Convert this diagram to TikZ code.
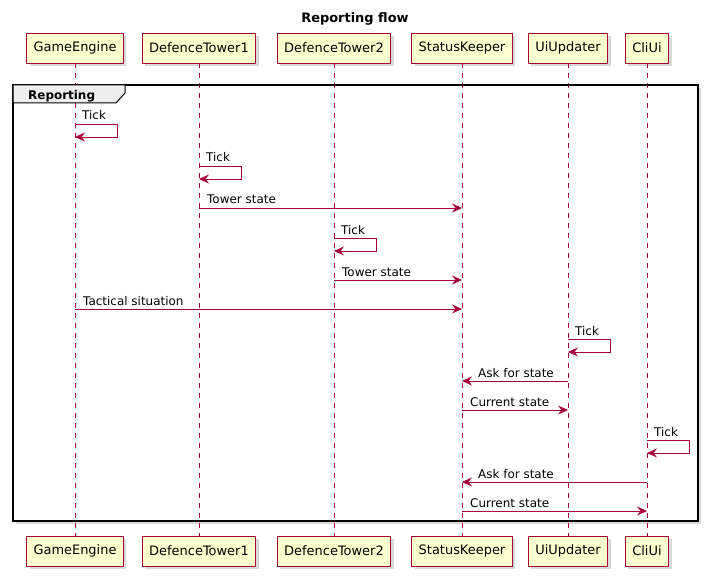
\documentclass[tikz,border=0pt]{standalone}
\usepackage{fontspec}
\setmainfont{DejaVu Sans}
\usetikzlibrary{arrows.meta,shadows}
\definecolor{umlred}{HTML}{A80036}
\definecolor{umlfill}{HTML}{FEFECE}
\definecolor{tabgray}{HTML}{EEEEEE}

\begin{document}
\begin{tikzpicture}[x=1bp,y=-1bp,
    part/.style={draw=umlred, fill=umlfill, line width=0.8bp, minimum height=30bp, inner xsep=7bp,
        font=\fontsize{13}{15}\selectfont, drop shadow={shadow xshift=3bp, shadow yshift=-3bp, opacity=0.3}},
    life/.style={umlred, line width=0.7bp, dash pattern=on 5bp off 5bp},
    msg/.style={umlred, line width=0.8bp, -{Stealth[length=10bp, width=9bp, inset=3.5bp]}},
    lbl/.style={font=\fontsize{12}{14}\selectfont, anchor=base west, inner sep=0pt}]
    \useasboundingbox (0,0) rectangle (708,577);

    % Title
    \node[font=\bfseries\fontsize{13}{15}\selectfont] (title) at (355,19) {Reporting flow};

    % Frame background
    \fill[white, drop shadow={shadow xshift=3bp, shadow yshift=-3bp, opacity=0.3}] (13,85) rectangle (698,521);

    % Participants and lifelines
    \foreach \n/\x/\t in {ge/75/GameEngine, dt1/199/DefenceTower1, dt2/334/DefenceTower2,
                          sk/462/StatusKeeper, uu/568/UiUpdater, cli/647/CliUi} {
        \node[part] (\n) at (\x,48) {\t};
        \node[part] (\n-b) at (\x,551) {\t};
        \draw[life] (\n.south) -- (\n-b.north);
    }

    % Frame
    \draw[line width=1.5bp] (13,85) rectangle (698,521);
    \draw[fill=tabgray, line width=1bp] (13,85) -- (125,85) -- (125,93) -- (116,103) -- (13,103) -- cycle;
    \node[font=\bfseries\fontsize{12}{14}\selectfont, anchor=base west, inner sep=0pt] (grp) at (28,100) {Reporting};

    % Messages
    \draw[msg] (ge |- 0,124) -- ++(42,0) -- ++(0,13) -- (ge |- 0,137);
    \path (ge |- 0,120) node[lbl, xshift=7bp] (m1) {Tick};

    \draw[msg] (dt1 |- 0,166) -- ++(42,0) -- ++(0,13) -- (dt1 |- 0,179);
    \path (dt1 |- 0,162) node[lbl, xshift=7bp] (m2) {Tick};

    \draw[msg] (dt1 |- 0,208) -- (sk |- 0,208);
    \path (dt1 |- 0,204) node[lbl, xshift=8bp] (m3) {Tower state};

    \draw[msg] (dt2 |- 0,238) -- ++(42,0) -- ++(0,13) -- (dt2 |- 0,251);
    \path (dt2 |- 0,234) node[lbl, xshift=7bp] (m4) {Tick};

    \draw[msg] (dt2 |- 0,280) -- (sk |- 0,280);
    \path (dt2 |- 0,276) node[lbl, xshift=8bp] (m5) {Tower state};

    \draw[msg] (ge |- 0,309) -- (sk |- 0,309);
    \path (ge |- 0,305) node[lbl, xshift=8bp] (m6) {Tactical situation};

    \draw[msg] (uu |- 0,339) -- ++(42,0) -- ++(0,13) -- (uu |- 0,352);
    \path (uu |- 0,335) node[lbl, xshift=7bp] (m7) {Tick};

    \draw[msg] (uu |- 0,381) -- (sk |- 0,381);
    \path (sk |- 0,377) node[lbl, xshift=16bp] (m8) {Ask for state};

    \draw[msg] (sk |- 0,410) -- (uu |- 0,410);
    \path (sk |- 0,406) node[lbl, xshift=8bp] (m9) {Current state};

    \draw[msg] (cli |- 0,440) -- ++(42,0) -- ++(0,13) -- (cli |- 0,453);
    \path (cli |- 0,436) node[lbl, xshift=7bp] (m10) {Tick};

    \draw[msg] (cli |- 0,482) -- (sk |- 0,482);
    \path (sk |- 0,478) node[lbl, xshift=16bp] (m11) {Ask for state};

    \draw[msg] (sk |- 0,511) -- (cli |- 0,511);
    \path (sk |- 0,507) node[lbl, xshift=8bp] (m12) {Current state};
\end{tikzpicture}
\end{document}
